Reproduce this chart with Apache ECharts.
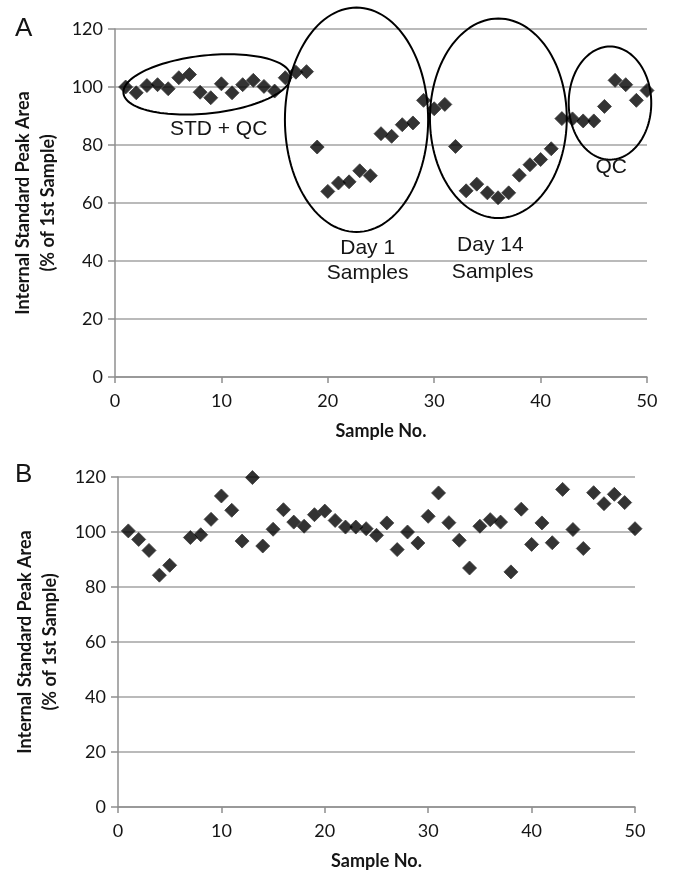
<!DOCTYPE html>
<html>
<head>
<meta charset="utf-8">
<script src="https://cdn.jsdelivr.net/npm/echarts@6/dist/echarts.min.js"></script>
<style>
html,body{margin:0;padding:0;background:#fff;}
#chart{width:674px;height:873px;}
</style>
</head>
<body>
<div id="chart"></div>
<script>
// ---- data ----
const sampleNo = [1,2,3,4,5,6,7,8,9,10,11,12,13,14,15,16,17,18,19,20,21,22,23,24,25,26,27,28,29,30,31,32,33,34,35,36,37,38,39,40,41,42,43,44,45,46,47,48,49,50];
const peakAreaA = [100, 98, 100.5, 100.8, 99.4, 103.2, 104.3, 98.2, 96.3, 101.1, 98, 100.8, 102.3, 100.2, 98.6, 103.2, 105.1, 105.3, 79.3, 64.0, 66.9, 67.3, 71.1, 69.4, 83.9, 83.0, 87.0, 87.6, 95.4, 92.5, 94.0, 79.5, 64.2, 66.5, 63.5, 61.8, 63.5, 69.6, 73.2, 75.0, 78.7, 89.1, 89.0, 88.3, 88.3, 93.3, 102.3, 100.8, 95.4, 98.8];
const peakAreaB = [100.4, 97.3, 93.3, 84.3, 87.9, null, 98.0, 99.0, 104.6, 113.1, 107.9, 96.7, 119.8, 94.9, 101.0, 108.1, 103.6, 102.1, 106.3, 107.6, 104.2, 101.8, 101.8, 101.2, 98.8, 103.3, 93.6, 100.0, 96.0, 105.7, 114.2, 103.4, 97.0, 86.9, 102.1, 104.5, 103.6, 85.5, 108.3, 95.5, 103.3, 96.1, 115.5, 100.9, 94.0, 114.3, 110.3, 113.7, 110.7, 101.2];
const xTicks = [0, 10, 20, 30, 40, 50];
const yTicks = [0, 20, 40, 60, 80, 100, 120];
const xTitle = 'Sample No.';
const yTitle = 'Internal Standard Peak Area\n(% of 1st Sample)';
// annotation groups in panel A (data coordinates: centre x, centre y, half-width, half-height)
const groupEllipses = [[8.65, 100.9, 7.9, 10.0], [22.7, 88.7, 6.73, 38.7], [36.03, 89.2, 6.43, 34.4], [46.52, 94.45, 3.88, 19.5]];
const groupTilt = [6, 0, 0, 0];
const groupLabels = ['STD + QC', 'Day 1', 'Samples', 'Day 14', 'Samples', 'QC'];
const groupLabelPos = [[9.74, 85.4], [23.75, 44.4], [23.75, 35.8], [35.28, 45.5], [35.5, 36.3], [46.64, 72.5]];

// ---- build ----
const toPairs = (xs, ys) => xs.map((x, i) => [x, ys[i]]).filter(p => p[1] !== null);
const axisGray = '#8f8f8f';
const txt = '#151515';
const tickFont = {fontFamily: 'Lato', fontSize: 18, color: txt};

function xAxisDef(gridIndex) {
  return {
    gridIndex, type: 'value', min: xTicks[0], max: xTicks[xTicks.length - 1], interval: 10,
    name: xTitle, nameLocation: 'middle', nameGap: 45,
    nameTextStyle: {fontFamily: 'Lato', fontWeight: 'bold', fontSize: 18, color: txt},
    axisLine: {show: true, onZero: false, lineStyle: {color: axisGray, width: 1.5}},
    axisTick: {show: true, length: 6, inside: false, lineStyle: {color: axisGray, width: 1.5}},
    axisLabel: Object.assign({margin: 15}, tickFont),
    splitLine: {show: false}
  };
}
function yAxisDef(gridIndex, gap) {
  return {
    gridIndex, type: 'value', min: yTicks[0], max: yTicks[yTicks.length - 1], interval: 20,
    name: yTitle, nameLocation: 'middle', nameGap: gap, nameRotate: 90,
    nameTextStyle: {fontFamily: 'Lato', fontWeight: 'bold', fontSize: 18, color: txt, lineHeight: 25},
    axisLine: {show: true, lineStyle: {color: axisGray, width: 1.5}},
    axisTick: {show: true, length: 7, lineStyle: {color: axisGray, width: 1.5}},
    axisLabel: Object.assign({margin: 12}, tickFont),
    splitLine: {show: true, lineStyle: {color: '#a3a3a3', width: 1.5}}
  };
}

const markerStyle = {color: '#000', borderColor: '#3a3a3a', borderWidth: 1};

const option = {
  backgroundColor: '#fff',
  animation: false,
  grid: [
    {left: 115, top: 29, width: 532, height: 348},
    {left: 118, top: 477, width: 517, height: 330}
  ],
  xAxis: [xAxisDef(0), xAxisDef(1)],
  yAxis: [yAxisDef(0, 52), yAxisDef(1, 55)],
  graphic: [
    {type: 'text', left: 15, top: 16, style: {text: 'A', font: '26px "Liberation Sans"', fill: txt}},
    {type: 'text', left: 15, top: 462, style: {text: 'B', font: '26px "Liberation Sans"', fill: txt}}
  ],
  series: [
    {
      type: 'scatter', xAxisIndex: 0, yAxisIndex: 0, symbol: 'diamond', symbolSize: 14,
      itemStyle: markerStyle, data: toPairs(sampleNo, peakAreaA), z: 3
    },
    {
      type: 'scatter', xAxisIndex: 1, yAxisIndex: 1, symbol: 'diamond', symbolSize: 14,
      itemStyle: markerStyle, data: toPairs(sampleNo, peakAreaB), z: 3
    },
    {
      type: 'custom', xAxisIndex: 0, yAxisIndex: 0, clip: false, z: 4, silent: true,
      data: groupEllipses,
      encode: {x: 0, y: 1},
      renderItem: function (params, api) {
        const c = api.coord([api.value(0), api.value(1)]);
        const s = api.size([api.value(2), api.value(3)]);
        const t = groupTilt[params.dataIndex] * Math.PI / 180;
        const pts = [];
        for (let k = 0; k <= 120; k++) {
          const a = 2 * Math.PI * k / 120;
          const ex = s[0] * Math.cos(a), ey = s[1] * Math.sin(a);
          pts.push([c[0] + ex * Math.cos(t) + ey * Math.sin(t), c[1] - ex * Math.sin(t) + ey * Math.cos(t)]);
        }
        return {type: 'polyline', shape: {points: pts}, style: {stroke: '#000', lineWidth: 2, fill: null}};
      }
    },
    {
      type: 'custom', xAxisIndex: 0, yAxisIndex: 0, clip: false, z: 4, silent: true,
      data: groupLabelPos,
      encode: {x: 0, y: 1},
      renderItem: function (params, api) {
        const c = api.coord([api.value(0), api.value(1)]);
        return {type: 'text', x: c[0], y: c[1], style: {
          text: groupLabels[params.dataIndex], font: '21px "Liberation Sans"', fill: txt,
          align: 'center', verticalAlign: 'middle'}};
      }
    }
  ]
};
const chart = echarts.init(document.getElementById('chart'), null, {renderer: 'canvas'});
chart.setOption(option);
</script>
</body>
</html>
